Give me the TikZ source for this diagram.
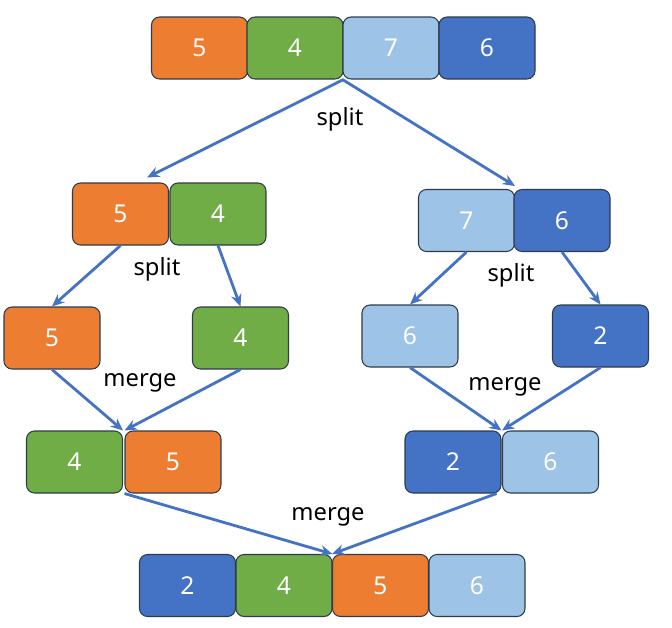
\documentclass[tikz,border=0pt]{standalone}
\usepackage{fontspec}
\setmainfont{Noto Sans}
\usetikzlibrary{arrows.meta}

\definecolor{orng}{HTML}{ED7D31}
\definecolor{grn}{HTML}{70AD47}
\definecolor{lblue}{HTML}{9DC3E6}
\definecolor{dblue}{HTML}{4472C4}
\definecolor{edge}{HTML}{2E3B4A}

\tikzset{
  cell/.style={draw=edge, line width=0.6pt, rounded corners=0.16cm,
    minimum width=1.92cm, minimum height=1.24cm, inner sep=0pt,
    text=white, font=\fontsize{14}{16}\selectfont},
  c5/.style={cell, fill=orng},
  c4/.style={cell, fill=grn},
  c7/.style={cell, fill=lblue},
  c6/.style={cell, fill=dblue},
  lbl/.style={font=\fontsize{13.5}{16}\selectfont},
  arr/.style={-{Stealth[length=7pt,width=6pt]}, draw=dblue, line width=1.6pt}
}

\begin{document}
\begin{tikzpicture}[x=0.02cm, y=-0.02cm]
    \useasboundingbox (0,0) rectangle (672,627);

    % top row
    \node[c5] (T1) at (199.5,48) {5};
    \node[c4] (T2) at (295,48) {4};
    \node[c7] (T3) at (391,48) {7};
    \node[c6] (T4) at (487,48) {6};

    % second row
    \node[c5] (LA) at (120.5,214) {5};
    \node[c4] (LB) at (218,214) {4};
    \node[c7] (RA) at (466.5,220.5) {7};
    \node[c6] (RB) at (562,220.5) {6};

    % third row
    \node[c5] (LL) at (52,338) {5};
    \node[c4] (LR) at (240.5,338) {4};
    \node[c7] (RL) at (410,336) {6};
    \node[c6] (RR) at (600.5,336) {2};

    % fourth row
    \node[c4] (ML1) at (74.5,462) {4};
    \node[c5] (ML2) at (173,462) {5};
    \node[c6] (MR1) at (453,462) {2};
    \node[c7] (MR2) at (550.5,462) {6};

    % bottom row
    \node[c6] (F1) at (187.5,585.5) {2};
    \node[c4] (F2) at (284,585.5) {4};
    \node[c5] (F3) at (380.5,585.5) {5};
    \node[c7] (F4) at (477,585.5) {6};

    % labels
    \node[lbl] (S1) at (340,119) {split};
    \node[lbl] (S2) at (157,269) {split};
    \node[lbl] (S3) at (511,275) {split};
    \node[lbl] (M1) at (140,383) {merge};
    \node[lbl] (M2) at (505,387) {merge};
    \node[lbl] (M3) at (328,517) {merge};

    \draw[arr] (T2.south east) -- ([xshift=-0.44cm, yshift=0.1cm]LA.north east);
    \draw[arr] (T3.south west) -- ([yshift=0.06cm]RA.north east);
    \draw[arr] (LA.south) -- (LL.north);
    \draw[arr] (LB.south) -- (LR.north);
    \draw[arr] (RA.south) -- (RL.north);
    \draw[arr] (RB.south) -- (RR.north);
    \draw[arr] (LL.south) -- (ML1.north east);
    \draw[arr] (LR.south) -- (ML2.north west);
    \draw[arr] (RL.south) -- (MR1.north east);
    \draw[arr] (RR.south) -- (MR2.north west);
    \draw[arr] (ML2.south west) -- (F2.north east);
    \draw[arr] ([xshift=-0.1cm]MR1.south east) -- (F3.north west);
\end{tikzpicture}
\end{document}
